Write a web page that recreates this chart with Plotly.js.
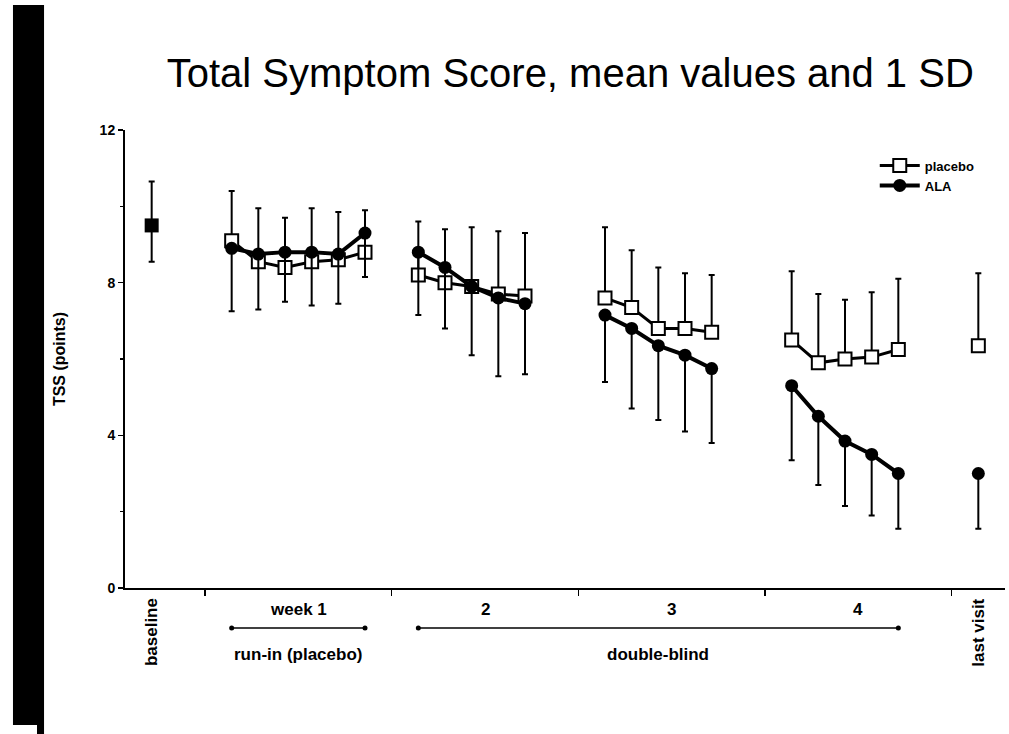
<!DOCTYPE html>
<html>
<head>
<meta charset="utf-8">
<script src="https://cdn.plot.ly/plotly-3.0.1.min.js"></script>
<style>
  html, body { margin: 0; padding: 0; background: #ffffff; }
  #chart { width: 1009px; height: 734px; }
</style>
</head>
<body>
<div id="chart"></div>
<script>
// Baseline (both groups together): mean, SD above and SD below
const baselineDay = [-2];
const baselineMean = [9.5];
const baselineSDUp = [1.15];
const baselineSDDown = [0.95];

// Study day of each later visit (day 0 = start of week 1)
const visitDay = [1, 2, 3, 4, 5, 6, 8, 9, 10, 11, 12, 15, 16, 17, 18, 19, 22, 23, 24, 25, 26, 29];
// Which block each visit belongs to; lines are only drawn inside a block
const visitBlock = ['w1', 'w1', 'w1', 'w1', 'w1', 'w1',
  'w2', 'w2', 'w2', 'w2', 'w2', 'w3', 'w3', 'w3', 'w3', 'w3',
  'w4', 'w4', 'w4', 'w4', 'w4', 'last'];

// Total Symptom Score, mean and 1 SD (placebo SD shown upward, ALA SD downward)
const placeboMean = [9.1, 8.55, 8.4, 8.55, 8.6, 8.8, 8.2, 8.0, 7.9, 7.7, 7.65,
  7.6, 7.35, 6.8, 6.8, 6.7, 6.5, 5.9, 6.0, 6.05, 6.25, 6.35];
const placeboSD = [1.3, 1.4, 1.3, 1.4, 1.25, 1.1, 1.4, 1.4, 1.55, 1.65, 1.65,
  1.85, 1.5, 1.6, 1.45, 1.5, 1.8, 1.8, 1.55, 1.7, 1.85, 1.9];
const alaMean = [8.9, 8.75, 8.8, 8.8, 8.75, 9.3, 8.8, 8.4, 7.9, 7.6, 7.45,
  7.15, 6.8, 6.35, 6.1, 5.75, 5.3, 4.5, 3.85, 3.5, 3.0, 3.0];
const alaSD = [1.65, 1.45, 1.3, 1.4, 1.3, 1.15, 1.65, 1.6, 1.8, 2.05, 1.85,
  1.75, 2.1, 1.95, 2.0, 1.95, 1.95, 1.8, 1.7, 1.6, 1.45, 1.45];

// Axis labelling
const weekTicks = [0, 7, 14, 21, 28];
const weekLabels = ['week 1', '2', '3', '4'];
const endLabels = ['baseline', 'last visit'];
const endDays = [-2, 29];

// Study phases shown as brackets under the axis
const phaseNames = ['run-in (placebo)', 'double-blind'];
const phaseStart = [1, 8];
const phaseEnd = [6, 26];

// Insert a gap wherever the block changes, so lines break between weeks
function withGaps(values) {
  const out = [];
  values.forEach((v, i) => {
    if (i > 0 && visitBlock[i] !== visitBlock[i - 1]) out.push(null);
    out.push(v);
  });
  return out;
}
const zeros = visitDay.map(() => 0);

const FONT = 'Liberation Sans, Arial, Helvetica, sans-serif';

const baseline = {
  name: 'baseline',
  type: 'scatter',
  mode: 'markers',
  x: baselineDay,
  y: baselineMean,
  showlegend: false,
  marker: { symbol: 'square', size: 14, color: '#000' },
  error_y: {
    type: 'data', symmetric: false,
    array: baselineSDUp, arrayminus: baselineSDDown,
    color: '#000', thickness: 2, width: 3
  },
  cliponaxis: false
};

const placebo = {
  name: 'placebo',
  type: 'scatter',
  mode: 'lines+markers',
  x: withGaps(visitDay),
  y: withGaps(placeboMean),
  connectgaps: false,
  line: { color: '#000', width: 3 },
  marker: {
    symbol: 'square', size: 13, color: '#fff',
    line: { color: '#000', width: 2 }
  },
  error_y: {
    type: 'data', symmetric: false,
    array: withGaps(placeboSD), arrayminus: withGaps(zeros),
    color: '#000', thickness: 2, width: 3
  },
  cliponaxis: false
};

const ala = {
  name: 'ALA',
  type: 'scatter',
  mode: 'lines+markers',
  x: withGaps(visitDay),
  y: withGaps(alaMean),
  connectgaps: false,
  line: { color: '#000', width: 4 },
  marker: { symbol: 'circle', size: 13, color: '#000' },
  error_y: {
    type: 'data', symmetric: false,
    array: withGaps(zeros), arrayminus: withGaps(alaSD),
    color: '#000', thickness: 2, width: 3
  },
  cliponaxis: false
};

const labelFont = { family: FONT, size: 17, weight: 'bold', color: '#000' };
const annotations = [];
weekLabels.forEach((t, i) => {
  annotations.push({
    text: t, xref: 'x', yref: 'paper',
    x: (weekTicks[i] + weekTicks[i + 1]) / 2, y: -0.048,
    showarrow: false, xanchor: 'center', yanchor: 'middle', font: labelFont
  });
});
endLabels.forEach((t, i) => {
  annotations.push({
    text: t, xref: 'x', yref: 'paper',
    x: endDays[i], y: -0.097, textangle: -90,
    showarrow: false, xanchor: 'center', yanchor: 'middle', font: labelFont
  });
});
phaseNames.forEach((t, i) => {
  annotations.push({
    text: t, xref: 'x', yref: 'paper',
    x: (phaseStart[i] + phaseEnd[i]) / 2, y: -0.146,
    showarrow: false, xanchor: 'center', yanchor: 'middle', font: labelFont
  });
});

const shapes = [];
const bracketY = -0.0873;
phaseNames.forEach((t, i) => {
  shapes.push({
    type: 'line', xref: 'x', yref: 'paper',
    x0: phaseStart[i], x1: phaseEnd[i], y0: bracketY, y1: bracketY,
    line: { color: '#000', width: 1.5 }
  });
  [phaseStart[i], phaseEnd[i]].forEach(d => {
    shapes.push({
      type: 'circle', xref: 'x', yref: 'paper',
      xsizemode: 'pixel', ysizemode: 'pixel',
      xanchor: d, yanchor: bracketY,
      x0: -2.5, x1: 2.5, y0: -2.5, y1: 2.5,
      fillcolor: '#000', line: { color: '#000', width: 0 }
    });
  });
});
// Black band along the left edge of the page
shapes.push({
  type: 'rect', xref: 'paper', yref: 'paper',
  x0: -0.1273, x1: -0.092, y0: -0.299, y1: 1.273,
  fillcolor: '#000', line: { width: 0 }
});
shapes.push({
  type: 'rect', xref: 'paper', yref: 'paper',
  x0: -0.1, x1: -0.092, y0: -0.33, y1: -0.299,
  fillcolor: '#000', line: { width: 0 }
});

const layout = {
  width: 1009,
  height: 734,
  margin: { l: 125, r: 4, t: 130, b: 146 },
  paper_bgcolor: '#fff',
  plot_bgcolor: '#fff',
  showlegend: true,
  font: { family: FONT, color: '#000' },
  title: {
    text: 'Total Symptom Score, mean values and 1 SD',
    font: { family: FONT, size: 40, color: '#000' },
    xref: 'paper', x: 0.506, xanchor: 'center',
    yref: 'container', y: 0.90, yanchor: 'middle'
  },
  legend: {
    x: 0.852, y: 0.955, xanchor: 'left', yanchor: 'top',
    bgcolor: 'rgba(0,0,0,0)',
    itemwidth: 40,
    font: { family: FONT, size: 13, weight: 'bold', color: '#000' },
    tracegroupgap: 0
  },
  xaxis: {
    range: [-3, 30],
    showgrid: false, zeroline: false,
    showline: true, linecolor: '#000', linewidth: 2,
    tickmode: 'array', tickvals: weekTicks,
    showticklabels: false,
    ticks: 'outside', ticklen: 6, tickwidth: 1.5, tickcolor: '#000'
  },
  yaxis: {
    range: [0, 12],
    showgrid: false, zeroline: false,
    showline: true, linecolor: '#000', linewidth: 2,
    tickmode: 'array', tickvals: [0, 4, 8, 12],
    ticks: 'outside', ticklen: 5, tickwidth: 1.5, tickcolor: '#000',
    minor: { tickvals: [2, 6, 10], ticks: 'outside', ticklen: 3, tickcolor: '#000' },
    tickfont: { family: FONT, size: 14, weight: 'bold', color: '#000' },
    title: {
      text: 'TSS (points)', standoff: 30,
      font: { family: FONT, size: 16, weight: 'bold', color: '#000' }
    }
  },
  annotations: annotations,
  shapes: shapes
};

Plotly.newPlot('chart', [baseline, placebo, ala], layout, { displayModeBar: false, staticPlot: true });
</script>
</body>
</html>
